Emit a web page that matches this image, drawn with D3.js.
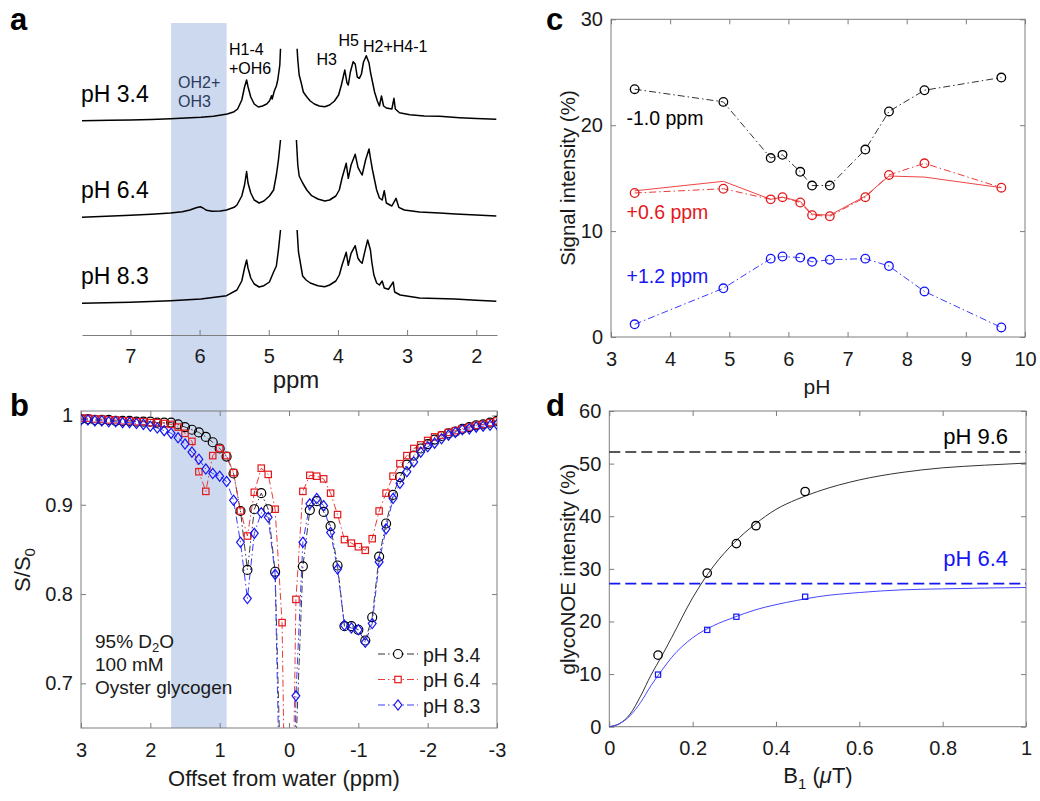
<!DOCTYPE html>
<html><head><meta charset="utf-8">
<script src="https://cdn.jsdelivr.net/npm/d3@7"></script>
<style>
body{margin:0;background:#fff;}
svg{display:block;font-family:"Liberation Sans",Arial,Helvetica,sans-serif;}
</style></head><body>
<script>
// ---------------- DATA ----------------
// Panel a: 1H NMR spectra [ppm, relative intensity]; null = water gap
const specLabels = ["pH 3.4", "pH 6.4", "pH 8.3"];
const specOffsets = [182.6, 86, 0];
const spec34 = [[7.70,0],[7.30,0.4],[7.00,0.7],[6.70,1.3],[6.42,2.0],[6.20,2.6],[5.98,3.4],[5.80,4.5],[5.60,6.7],[5.50,9],[5.45,11.7],[5.39,20.7],[5.35,33.7],[5.32,40.7],[5.30,34],[5.26,23.7],[5.21,16.7],[5.15,13.7],[5.09,14.7],[5.03,16.7],[4.99,19.7],[4.96,25],[4.95,21.7],[4.92,29.7],[4.89,34.7],[4.87,40.7],[4.84,55.7],[4.83,72],
  null,
  [4.59,72],[4.58,60.7],[4.56,45.7],[4.53,37.7],[4.50,28.7],[4.47,25.7],[4.44,23],[4.40,19.7],[4.34,16.7],[4.27,14.7],[4.19,14],[4.12,15.7],[4.05,19.7],[3.99,25.7],[3.95,35.7],[3.90,50.7],[3.87,38],[3.85,35.7],[3.82,48.7],[3.78,59],[3.75,56.7],[3.72,43.7],[3.69,42.4],[3.66,46.7],[3.63,58.7],[3.59,65],[3.55,57.7],[3.53,48.7],[3.50,38.7],[3.47,28.7],[3.43,19.7],[3.40,14.7],[3.37,24.7],[3.34,14.7],[3.30,12.7],[3.22,11.7],[3.19,22.4],[3.17,11.7],[3.11,8],[2.96,6],[2.75,4.7],[2.53,4.4],[2.24,3],[2.00,2.2],[1.71,1.4]];
const spec64 = [[7.70,0],[7.00,2],[6.70,3],[6.42,4.3],[6.25,5.5],[6.14,7.3],[6.05,9.5],[5.99,10.5],[5.95,9.3],[5.90,7],[5.82,6],[5.70,6.3],[5.61,7.3],[5.50,10],[5.46,12.3],[5.39,21.3],[5.35,32.3],[5.32,45.8],[5.30,34.3],[5.26,24.3],[5.21,17.3],[5.14,14.3],[5.07,16.3],[4.99,21.3],[4.93,27.3],[4.89,42.3],[4.86,57.3],[4.83,77.3],
  null,
  [4.60,77.3],[4.58,52.3],[4.56,41.3],[4.51,34.3],[4.45,27.3],[4.38,21.6],[4.29,18.3],[4.19,16.3],[4.12,17.3],[4.03,21.3],[3.98,27.3],[3.94,39.3],[3.88,54],[3.85,39],[3.81,52.3],[3.75,63],[3.71,50],[3.68,46],[3.65,42.3],[3.60,57.3],[3.55,68.3],[3.53,59.3],[3.50,47.3],[3.47,37.3],[3.44,27.3],[3.40,19.3],[3.36,17.3],[3.33,26.6],[3.30,14.3],[3.22,11.3],[3.16,19],[3.12,10],[3.04,7.3],[2.82,5.3],[2.53,4.3],[2.30,3.3],[2.00,2.3],[1.71,1.3]];
const spec83 = [[7.70,0],[7.00,1],[6.42,2.6],[5.98,4.3],[5.61,7.6],[5.46,13.3],[5.39,22.3],[5.35,35.3],[5.32,43.3],[5.30,35.3],[5.26,25.3],[5.21,19.3],[5.14,16.3],[5.07,17.6],[4.99,21.3],[4.93,31.3],[4.89,37.3],[4.86,53.3],[4.83,73.3],
  null,
  [4.59,73.3],[4.57,51.3],[4.53,35.3],[4.51,27.3],[4.46,23.3],[4.40,20.3],[4.29,17.6],[4.19,16.6],[4.12,18.3],[4.03,22.3],[3.98,28.3],[3.94,38.3],[3.88,51],[3.85,38],[3.81,50],[3.75,57.6],[3.71,45],[3.68,42],[3.65,40],[3.60,55],[3.57,63.3],[3.53,53.3],[3.51,41.3],[3.48,28.3],[3.44,20.3],[3.40,18.3],[3.36,22.3],[3.33,15.3],[3.27,14],[3.20,21.3],[3.18,11.3],[3.10,8.3],[2.82,5.3],[2.31,4.3],[2.00,3],[1.71,2]];
const ppmTicks = [7, 6, 5, 4, 3, 2];
const bandOffsets = [1.7, 0.9];

// Panel b: Z-spectra
const offsets = [3.0,2.9,2.8,2.7,2.6,2.5,2.4,2.3,2.2,2.1,2.0,1.9,1.8,1.7,1.6,1.5,1.4,1.3,1.2,1.1,1.0,0.9,0.8,0.7,0.6,0.5,0.4,0.3,0.2,0.1,0.0,-0.1,-0.2,-0.3,-0.4,-0.5,-0.6,-0.7,-0.8,-0.9,-1.0,-1.1,-1.2,-1.3,-1.4,-1.5,-1.6,-1.7,-1.8,-1.9,-2.0,-2.1,-2.2,-2.3,-2.4,-2.5,-2.6,-2.7,-2.8,-2.9,-3.0];
const zPH34 = [0.996,0.996,0.995,0.995,0.995,0.994,0.994,0.994,0.993,0.993,0.993,0.992,0.992,0.992,0.990,0.987,0.984,0.981,0.976,0.970,0.963,0.954,0.935,0.893,0.827,0.895,0.913,0.895,0.825,0.53,0.30,0.63,0.831,0.894,0.904,0.892,0.876,0.832,0.764,0.764,0.760,0.748,0.774,0.842,0.879,0.911,0.931,0.945,0.955,0.963,0.968,0.973,0.977,0.980,0.982,0.985,0.987,0.989,0.990,0.992,0.994];
const zPH64 = [0.997,0.997,0.996,0.996,0.995,0.995,0.994,0.994,0.993,0.993,0.992,0.992,0.991,0.990,0.987,0.980,0.971,0.937,0.915,0.955,0.963,0.955,0.936,0.893,0.865,0.914,0.941,0.934,0.895,0.768,0.25,0.794,0.915,0.933,0.932,0.929,0.913,0.889,0.861,0.857,0.853,0.849,0.862,0.893,0.913,0.932,0.946,0.955,0.963,0.967,0.972,0.976,0.978,0.981,0.983,0.985,0.987,0.989,0.990,0.992,0.994];
const zPH83 = [0.995,0.995,0.994,0.994,0.993,0.993,0.992,0.992,0.991,0.990,0.988,0.986,0.983,0.980,0.975,0.968,0.959,0.951,0.940,0.935,0.932,0.926,0.905,0.858,0.795,0.868,0.891,0.886,0.822,0.44,0.10,0.686,0.858,0.901,0.907,0.899,0.869,0.828,0.765,0.762,0.760,0.746,0.767,0.836,0.873,0.907,0.924,0.937,0.948,0.959,0.965,0.969,0.974,0.978,0.981,0.984,0.985,0.987,0.988,0.989,0.990];
const zLabels = ["pH 3.4", "pH 6.4", "pH 8.3"];
const offsetTicks = [3, 2, 1, 0, -1, -2, -3];
const zTicks = [0.7, 0.8, 0.9, 1];
const noteLines = ["95% D|2|O", "100 mM", "Oyster glycogen"];

// Panel c
const pHc = [3.4, 4.9, 5.7, 5.9, 6.2, 6.4, 6.7, 7.3, 7.7, 8.3, 9.6];
const sigM10 = [23.4, 22.2, 16.9, 17.2, 15.6, 14.3, 14.3, 17.7, 21.3, 23.3, 24.5];
const sigP06 = [13.6, 14.0, 13.0, 13.2, 12.7, 11.5, 11.4, 13.2, 15.3, 16.4, 14.1];
const sigP06b = [13.8, 14.7, 13.0, 13.2, 12.8, 11.6, 11.5, 13.3, 15.2, 15.1, 14.1];
const sigP12 = [1.2, 4.6, 7.4, 7.6, 7.5, 7.1, 7.3, 7.4, 6.7, 4.3, 0.9];
const cLabels = ["-1.0 ppm", "+0.6 ppm", "+1.2 ppm"];
const pHTicks = [3, 4, 5, 6, 7, 8, 9, 10];
const sigTicks = [0, 10, 20, 30];

// Panel d
const b1Black = [0.117, 0.235, 0.305, 0.352, 0.47];
const gPH96 = [13.6, 29.2, 34.8, 38.2, 44.7];
const b1Blue = [0.117, 0.235, 0.305, 0.47];
const gPH64 = [9.9, 18.4, 20.9, 24.7];
const fitB1 = [0, 0.025, 0.05, 0.075, 0.1, 0.125, 0.15, 0.2, 0.25, 0.3, 0.35, 0.4, 0.45, 0.5, 0.6, 0.7, 0.8, 0.9, 1.0];
const fitPH96 = [0, 0.6, 2.4, 5.8, 9.8, 13.3, 17.0, 24.5, 30.5, 35.0, 38.5, 41.3, 43.2, 44.7, 46.9, 48.3, 49.2, 49.7, 50.1];
const fitPH64 = [0, 0.6, 2.1, 4.6, 7.8, 10.6, 13.2, 16.9, 19.2, 20.8, 22.2, 23.2, 24.0, 24.7, 25.5, 26.0, 26.2, 26.35, 26.45];
const plateaus = [52.2, 27.2];
const dLabels = ["pH 9.6", "pH 6.4"];
const b1Ticks = [0, 0.2, 0.4, 0.6, 0.8, 1];
const gTicks = [0, 10, 20, 30, 40, 50, 60];

// ---------------- STYLE ----------------
const RED = "#e3191c", BLUE = "#1515f5", BAND = "#cdd9ee", AX = "#7d7d7d", TXT = "#1a1a1a";
const DASHDOT = "7,3,1.5,3";
const fmtPlain = d => String(d);

const svg = d3.select("body").append("svg").attr("width", 1040).attr("height", 801);

function frame(g, x, y, xt, yt, xpad) {
  const [xa, xb] = x.range(), [yb, ya] = y.range();
  const style = s => {
    s.attr("font-family", null).attr("font-size", null);
    s.select(".domain").remove();
    s.selectAll(".tick line").attr("stroke", AX);
    s.selectAll(".tick text").attr("fill", TXT).style("font-size", "20px");
  };
  g.append("g").attr("transform", `translate(0,${yb})`)
    .call(d3.axisBottom(x).tickValues(xt).tickFormat(fmtPlain).tickSizeInner(-5).tickSizeOuter(0).tickPadding(xpad)).call(style);
  g.append("g").attr("transform", `translate(0,${ya})`)
    .call(d3.axisTop(x).tickValues(xt).tickFormat("").tickSizeInner(-5).tickSizeOuter(0)).call(style);
  g.append("g").attr("transform", `translate(${Math.min(xa, xb)},0)`)
    .call(d3.axisLeft(y).tickValues(yt).tickFormat(fmtPlain).tickSizeInner(-5).tickSizeOuter(0).tickPadding(8)).call(style);
  g.append("g").attr("transform", `translate(${Math.max(xa, xb)},0)`)
    .call(d3.axisRight(y).tickValues(yt).tickFormat("").tickSizeInner(-5).tickSizeOuter(0)).call(style);
  g.append("rect").attr("x", Math.min(xa, xb)).attr("y", ya).attr("width", Math.abs(xb - xa)).attr("height", yb - ya)
    .attr("fill", "none").attr("stroke", AX).attr("stroke-width", 1);
}

function marker(sel, type, size) {
  if (type === "circle") return sel.append("circle").attr("r", size);
  if (type === "square") return sel.append("rect").attr("x", -size).attr("y", -size).attr("width", 2 * size).attr("height", 2 * size);
  return sel.append("path").attr("d", `M0,${-size * 1.3}L${size},0L0,${size * 1.3}L${-size},0Z`);
}

// ---------------- PANEL A + B shared band ----------------
const xA = d3.scaleLinear().domain([7.7, 1.7]).range([82, 497]);
const yA = d3.scaleLinear().domain([0, 280.3]).range([303.3, 23]);
const xB = d3.scaleLinear().domain([3, -3]).range([81, 497]);
const yB = d3.scaleLinear().domain([0.65, 1.005]).range([728, 411]);

svg.append("rect").attr("x", xB(bandOffsets[0])).attr("y", yA(yA.domain()[1]))
  .attr("width", xB(bandOffsets[1]) - xB(bandOffsets[0])).attr("height", yB(0.65) - yA(yA.domain()[1]))
  .attr("fill", BAND);

// Panel a spectra
const gA = svg.append("g");
const specs = [spec34, spec64, spec83];
specs.forEach((s, i) => {
  const line = d3.line().defined(d => d).x(d => xA(d[0])).y(d => yA(d[1] + specOffsets[i]));
  gA.append("path").attr("d", line(s)).attr("fill", "none").attr("stroke", "#000").attr("stroke-width", 1.5).attr("stroke-linejoin", "round");
  gA.append("text").attr("x", 81).attr("y", yA(specOffsets[i]) - 19).attr("font-size", 23).attr("fill", "#000").text(specLabels[i]);
});
const axA = gA.append("g").attr("transform", "translate(0,335)")
  .call(d3.axisBottom(xA).tickValues(ppmTicks).tickFormat(fmtPlain).tickSizeInner(-5).tickSizeOuter(0).tickPadding(14));
axA.attr("font-family", null).attr("font-size", null);
axA.select(".domain").attr("stroke", AX);
axA.selectAll(".tick line").attr("stroke", AX);
axA.selectAll(".tick text").attr("fill", TXT).style("font-size", "20px");
gA.append("text").attr("x", 296).attr("y", 388).attr("text-anchor", "middle").attr("font-size", 24).attr("fill", TXT).text("ppm");
const annA = [["OH2+", 178, 87.7, "#2b3b5c"], ["OH3", 178, 106.5, "#2b3b5c"], ["H1-4", 229, 55, "#000"], ["+OH6", 229, 74, "#000"], ["H3", 316.5, 65, "#000"], ["H5", 338.5, 45.5, "#000"], ["H2+H4-1", 363, 51.5, "#000"]];
annA.forEach(a => gA.append("text").attr("x", a[1]).attr("y", a[2]).attr("font-size", 16).attr("fill", a[3]).text(a[0]));

// ---------------- PANEL B ----------------
const gB = svg.append("g");
frame(gB, xB, yB, offsetTicks, zTicks, 15);
gB.append("clipPath").attr("id", "clipB").append("rect").attr("x", 81).attr("y", 411).attr("width", 416).attr("height", 317);
const zSeries = [
  {v: zPH34, c: "#000", lc: "#3a3a3a", m: "circle", s: 4.5},
  {v: zPH64, c: RED, lc: "#ea3b3b", m: "square", s: 3.2},
  {v: zPH83, c: BLUE, lc: "#3a3aff", m: "diamond", s: 3.9}
];
const plotB = gB.append("g").attr("clip-path", "url(#clipB)");
zSeries.forEach(sr => {
  const pts = offsets.map((o, i) => [o, sr.v[i]]);
  plotB.append("path").attr("d", d3.line().x(d => xB(d[0])).y(d => yB(d[1]))(pts))
    .attr("fill", "none").attr("stroke", sr.lc).attr("stroke-width", 1).attr("stroke-dasharray", DASHDOT);
});
zSeries.forEach(sr => {
  const pts = offsets.map((o, i) => [o, sr.v[i]]);
  plotB.selectAll(null).data(pts).enter().append("g").attr("transform", d => `translate(${xB(d[0])},${yB(d[1])})`)
    .each(function () { marker(d3.select(this), sr.m, sr.s).attr("fill", "none").attr("stroke", sr.c).attr("stroke-width", 1.2); });
});
// legend
zSeries.forEach((sr, i) => {
  const yy = 654 + i * 25.5;
  gB.append("line").attr("x1", 378).attr("x2", 418).attr("y1", yy).attr("y2", yy).attr("stroke", i === 0 ? "#777" : sr.lc).attr("stroke-width", i === 0 ? 1.6 : 1).attr("stroke-dasharray", DASHDOT);
  marker(gB.append("g").attr("transform", `translate(398,${yy})`), sr.m, sr.s).attr("fill", "#fff").attr("stroke", sr.c).attr("stroke-width", 1.2);
  gB.append("text").attr("x", 423).attr("y", yy + 7.5).attr("font-size", 19.5).attr("fill", TXT).text(zLabels[i]);
});
noteLines.forEach((t, i) => {
  const tx = gB.append("text").attr("x", 95).attr("y", 648.3 + i * 23).attr("font-size", 19).attr("fill", TXT);
  const parts = t.split("|");
  if (parts.length === 3) {
    tx.append("tspan").text(parts[0]);
    tx.append("tspan").attr("font-size", 13).attr("dy", 4).text(parts[1]);
    tx.append("tspan").attr("dy", -4).text(parts[2]);
  } else tx.text(t);
});
gB.append("text").attr("x", 284).attr("y", 785.5).attr("text-anchor", "middle").attr("font-size", 22).attr("fill", TXT).text("Offset from water (ppm)");
const ylB = gB.append("text").attr("transform", "translate(30,570) rotate(-90)").attr("text-anchor", "middle").attr("font-size", 22).attr("fill", TXT);
ylB.append("tspan").text("S/S");
ylB.append("tspan").attr("font-size", 15).attr("dy", 5).text("0");

// ---------------- PANEL C ----------------
const xC = d3.scaleLinear().domain([3, 10]).range([611, 1025]);
const yC = d3.scaleLinear().domain([0, 30]).range([337, 19.3]);
const gC = svg.append("g");
frame(gC, xC, yC, pHTicks, sigTicks, 15);
const lineC = d3.line().x(d => xC(d[0])).y(d => yC(d[1]));
gC.append("path").attr("d", lineC(pHc.map((p, i) => [p, sigP06b[i]]))).attr("fill", "none").attr("stroke", "#ee4444").attr("stroke-width", 1);
const cSeries = [[sigM10, "#000", "#333"], [sigP06, RED, "#ea3b3b"], [sigP12, BLUE, "#3a3aff"]];
cSeries.forEach(([v, c, lc]) => {
  const pts = pHc.map((p, i) => [p, v[i]]);
  gC.append("path").attr("d", lineC(pts)).attr("fill", "none").attr("stroke", lc).attr("stroke-width", 1).attr("stroke-dasharray", DASHDOT);
  gC.selectAll(null).data(pts).enter().append("circle").attr("cx", d => xC(d[0])).attr("cy", d => yC(d[1])).attr("r", 4.3)
    .attr("fill", "none").attr("stroke", c).attr("stroke-width", 1.3);
});
[[cLabels[0], 125, "#000"], [cLabels[1], 219.3, RED], [cLabels[2], 283.3, BLUE]].forEach(([t, yy, c]) =>
  gC.append("text").attr("x", 626.5).attr("y", yy).attr("font-size", 19.5).attr("fill", c).text(t));
gC.append("text").attr("x", 817).attr("y", 394).attr("text-anchor", "middle").attr("font-size", 21).attr("fill", TXT).text("pH");
gC.append("text").attr("transform", "translate(575,178) rotate(-90)").attr("text-anchor", "middle").attr("font-size", 20.5).attr("fill", TXT).text("Signal intensity (%)");

// ---------------- PANEL D ----------------
const xD = d3.scaleLinear().domain([0, 1]).range([609.3, 1026]);
const yD = d3.scaleLinear().domain([0, 60]).range([726.7, 411]);
const gD = svg.append("g");
frame(gD, xD, yD, b1Ticks, gTicks, 14);
[["#222", plateaus[0]], [BLUE, plateaus[1]]].forEach(([c, v]) =>
  gD.append("line").attr("x1", xD(0)).attr("x2", xD(1)).attr("y1", yD(v)).attr("y2", yD(v))
    .attr("stroke", c).attr("stroke-width", 1.6).attr("stroke-dasharray", "11,5"));
const lineD = d3.line().x(d => xD(d[0])).y(d => yD(d[1])).curve(d3.curveMonotoneX);
gD.append("path").attr("d", lineD(fitB1.map((b, i) => [b, fitPH96[i]]))).attr("fill", "none").attr("stroke", "#333").attr("stroke-width", 1);
gD.append("path").attr("d", lineD(fitB1.map((b, i) => [b, fitPH64[i]]))).attr("fill", "none").attr("stroke", "#4646ff").attr("stroke-width", 1);
gD.selectAll(null).data(b1Black.map((b, i) => [b, gPH96[i]])).enter().append("circle")
  .attr("cx", d => xD(d[0])).attr("cy", d => yD(d[1])).attr("r", 4.2).attr("fill", "none").attr("stroke", "#000").attr("stroke-width", 1.3);
gD.selectAll(null).data(b1Blue.map((b, i) => [b, gPH64[i]])).enter().append("rect")
  .attr("x", d => xD(d[0]) - 2.6).attr("y", d => yD(d[1]) - 2.6).attr("width", 5.2).attr("height", 5.2)
  .attr("fill", "none").attr("stroke", BLUE).attr("stroke-width", 1.2);
gD.append("text").attr("x", 1008).attr("y", 444.3).attr("text-anchor", "end").attr("font-size", 22).attr("fill", "#000").text(dLabels[0]);
gD.append("text").attr("x", 1008).attr("y", 565.7).attr("text-anchor", "end").attr("font-size", 22).attr("fill", BLUE).text(dLabels[1]);
const xlD = gD.append("text").attr("x", 818).attr("y", 783.3).attr("text-anchor", "middle").attr("font-size", 22).attr("fill", TXT);
xlD.append("tspan").text("B");
xlD.append("tspan").attr("font-size", 15).attr("dy", 6).text("1");
xlD.append("tspan").attr("dy", -6).text(" (");
xlD.append("tspan").attr("font-style", "italic").text("\u03bc");
xlD.append("tspan").text("T)");
gD.append("text").attr("transform", "translate(575,569) rotate(-90)").attr("text-anchor", "middle").attr("font-size", 20.5).attr("fill", TXT).text("glycoNOE intensity (%)");

// Panel letters
[["a", 10, 29.5], ["b", 10, 416], ["c", 546, 29.5], ["d", 546, 416]].forEach(([t, x, y]) =>
  svg.append("text").attr("x", x).attr("y", y).attr("font-size", 31).attr("font-weight", "bold").attr("fill", "#000").text(t));
</script></body></html>
